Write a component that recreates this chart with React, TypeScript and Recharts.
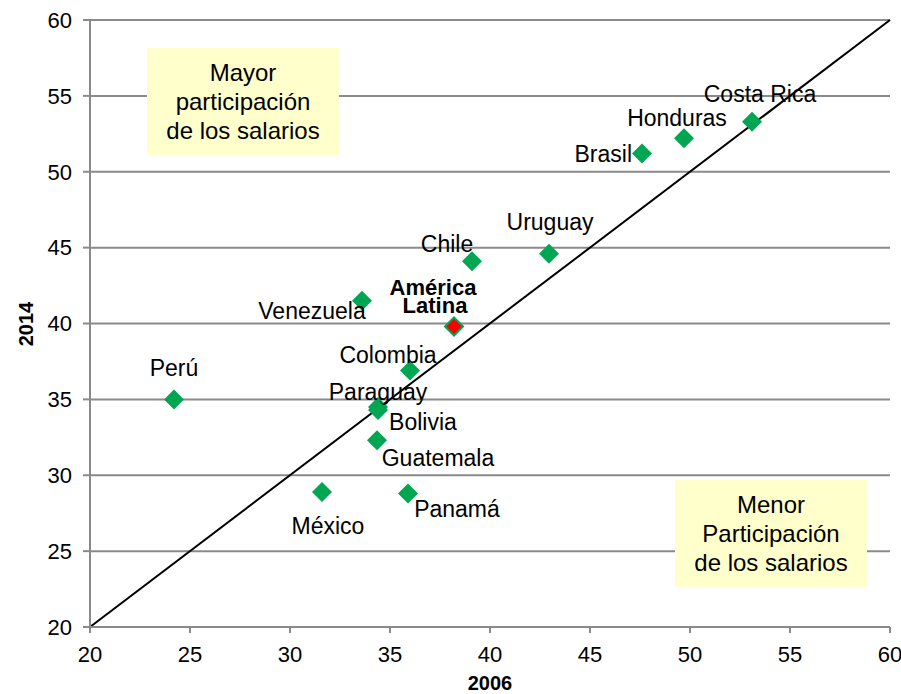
import React from "react";
import {
  ScatterChart,
  Scatter,
  XAxis,
  YAxis,
  CartesianGrid,
  ReferenceLine,
  ReferenceArea,
} from "recharts";

const countries = [
  "Costa Rica",
  "Honduras",
  "Brasil",
  "Uruguay",
  "Chile",
  "Venezuela",
  "Colombia",
  "Perú",
  "Paraguay",
  "Bolivia",
  "Guatemala",
  "México",
  "Panamá",
];
const share2006 = [53.1, 49.7, 47.6, 42.95, 39.1, 33.6, 36.0, 24.2, 34.4, 34.4, 34.35, 31.6, 35.9];
const share2014 = [53.3, 52.2, 51.2, 44.6, 44.1, 41.5, 36.9, 35.0, 34.5, 34.3, 32.3, 28.9, 28.8];

const regionName = "América Latina";
const region2006 = 38.2;
const region2014 = 39.8;

const axisTicks = [20, 25, 30, 35, 40, 45, 50, 55, 60];

const points = countries.map((name, i) => ({ name, x: share2006[i], y: share2014[i] }));
const regionPoints = [{ name: regionName, x: region2006, y: region2014 }];

// label placement relative to each marker (pixels)
const labelPos: Record<string, { dx: number; dy: number; anchor: "start" | "middle" | "end" }> = {
  "Costa Rica": { dx: 8, dy: -28, anchor: "middle" },
  Honduras: { dx: -7, dy: -20, anchor: "middle" },
  Brasil: { dx: -10, dy: 0, anchor: "end" },
  Uruguay: { dx: 1, dy: -32, anchor: "middle" },
  Chile: { dx: -25, dy: -17, anchor: "middle" },
  Venezuela: { dx: -50, dy: 10, anchor: "middle" },
  Colombia: { dx: -22, dy: -16, anchor: "middle" },
  "Perú": { dx: 0, dy: -31, anchor: "middle" },
  Paraguay: { dx: 0, dy: -15, anchor: "middle" },
  Bolivia: { dx: 45, dy: 12, anchor: "middle" },
  Guatemala: { dx: 61, dy: 18, anchor: "middle" },
  "México": { dx: 6, dy: 34, anchor: "middle" },
  "Panamá": { dx: 49, dy: 16, anchor: "middle" },
};

const FONT = "'Liberation Sans', Arial, sans-serif";
const GREEN = "#00a651";
const GRID = "#8a8a8a";

const diamond = (cx: number, cy: number, r: number) =>
  `M${cx},${cy - r}L${cx + r},${cy}L${cx},${cy + r}L${cx - r},${cy}Z`;

const CountryShape = (props: any) => {
  const { cx, cy, payload } = props;
  const p = labelPos[payload.name];
  return (
    <g>
      <path d={diamond(cx, cy, 10)} fill={GREEN} />
      <text
        x={cx + p.dx}
        y={cy + p.dy}
        textAnchor={p.anchor}
        dominantBaseline="central"
        fontSize={23}
        fontFamily={FONT}
        fill="#000"
      >
        {payload.name}
      </text>
    </g>
  );
};

const RegionShape = (props: any) => {
  const { cx, cy } = props;
  return (
    <g>
      <path d={diamond(cx, cy, 9)} fill="#ff0000" stroke={GREEN} strokeWidth={2} />
      <text
        textAnchor="middle"
        fontSize={22}
        fontWeight="bold"
        fontFamily={FONT}
        fill="#000"
      >
        <tspan x={cx - 21} y={cy - 32}>América</tspan>
        <tspan x={cx - 19} y={cy - 14}>Latina</tspan>
      </text>
    </g>
  );
};

const NoteBox = (lines: string[]) => (props: any) => {
  const { x, y, width, height } = props;
  const mid = y + height / 2;
  return (
    <g>
      <rect x={x} y={y} width={width} height={height} fill="#ffffcc" stroke="none" />
      {lines.map((t, i) => (
        <text
          key={i}
          x={x + width / 2}
          y={mid + (i - 1) * 29}
          textAnchor="middle"
          dominantBaseline="central"
          fontSize={24}
          fontFamily={FONT}
          fill="#000"
        >
          {t}
        </text>
      ))}
    </g>
  );
};

const tickStyle = { fill: "#000", fontSize: 22, fontFamily: FONT };

export default function App() {
  return (
    <div style={{ position: "absolute", left: 0, top: 0, background: "#fff" }}>
      <ScatterChart
        width={901}
        height={694}
        margin={{ top: 20, right: 11, bottom: 37, left: 0 }}
      >
        <CartesianGrid vertical={false} stroke={GRID} strokeWidth={2} />
        <XAxis
          type="number"
          dataKey="x"
          domain={[20, 60]}
          ticks={axisTicks}
          height={30}
          tick={tickStyle}
          tickSize={6}
          tickMargin={13}
          axisLine={{ stroke: GRID, strokeWidth: 2 }}
          tickLine={{ stroke: GRID, strokeWidth: 2 }}
        />
        <YAxis
          type="number"
          dataKey="y"
          domain={[20, 60]}
          ticks={axisTicks}
          width={90}
          tick={tickStyle}
          tickSize={7}
          tickMargin={11}
          axisLine={{ stroke: GRID, strokeWidth: 2 }}
          tickLine={{ stroke: GRID, strokeWidth: 2 }}
        />
        <ReferenceArea
          x1={22.85}
          x2={32.45}
          y1={51.1}
          y2={58.15}
          shape={NoteBox(["Mayor", "participación", "de los salarios"])}
        />
        <ReferenceArea
          x1={49.25}
          x2={58.85}
          y1={22.64}
          y2={29.69}
          shape={NoteBox(["Menor", "Participación", "de los salarios"])}
        />
        <ReferenceLine
          segment={[
            { x: 20, y: 20 },
            { x: 60, y: 60 },
          ]}
          stroke="#000"
          strokeWidth={2}
        />
        <Scatter data={points} shape={CountryShape} isAnimationActive={false} />
        <Scatter data={regionPoints} shape={RegionShape} isAnimationActive={false} />
        <text
          x={490}
          y={683}
          textAnchor="middle"
          dominantBaseline="central"
          fontSize={20}
          fontWeight="bold"
          fontFamily={FONT}
        >
          2006
        </text>
        <text
          x={26}
          y={324}
          transform="rotate(-90 26 324)"
          textAnchor="middle"
          dominantBaseline="central"
          fontSize={20}
          fontWeight="bold"
          fontFamily={FONT}
        >
          2014
        </text>
      </ScatterChart>
    </div>
  );
}
